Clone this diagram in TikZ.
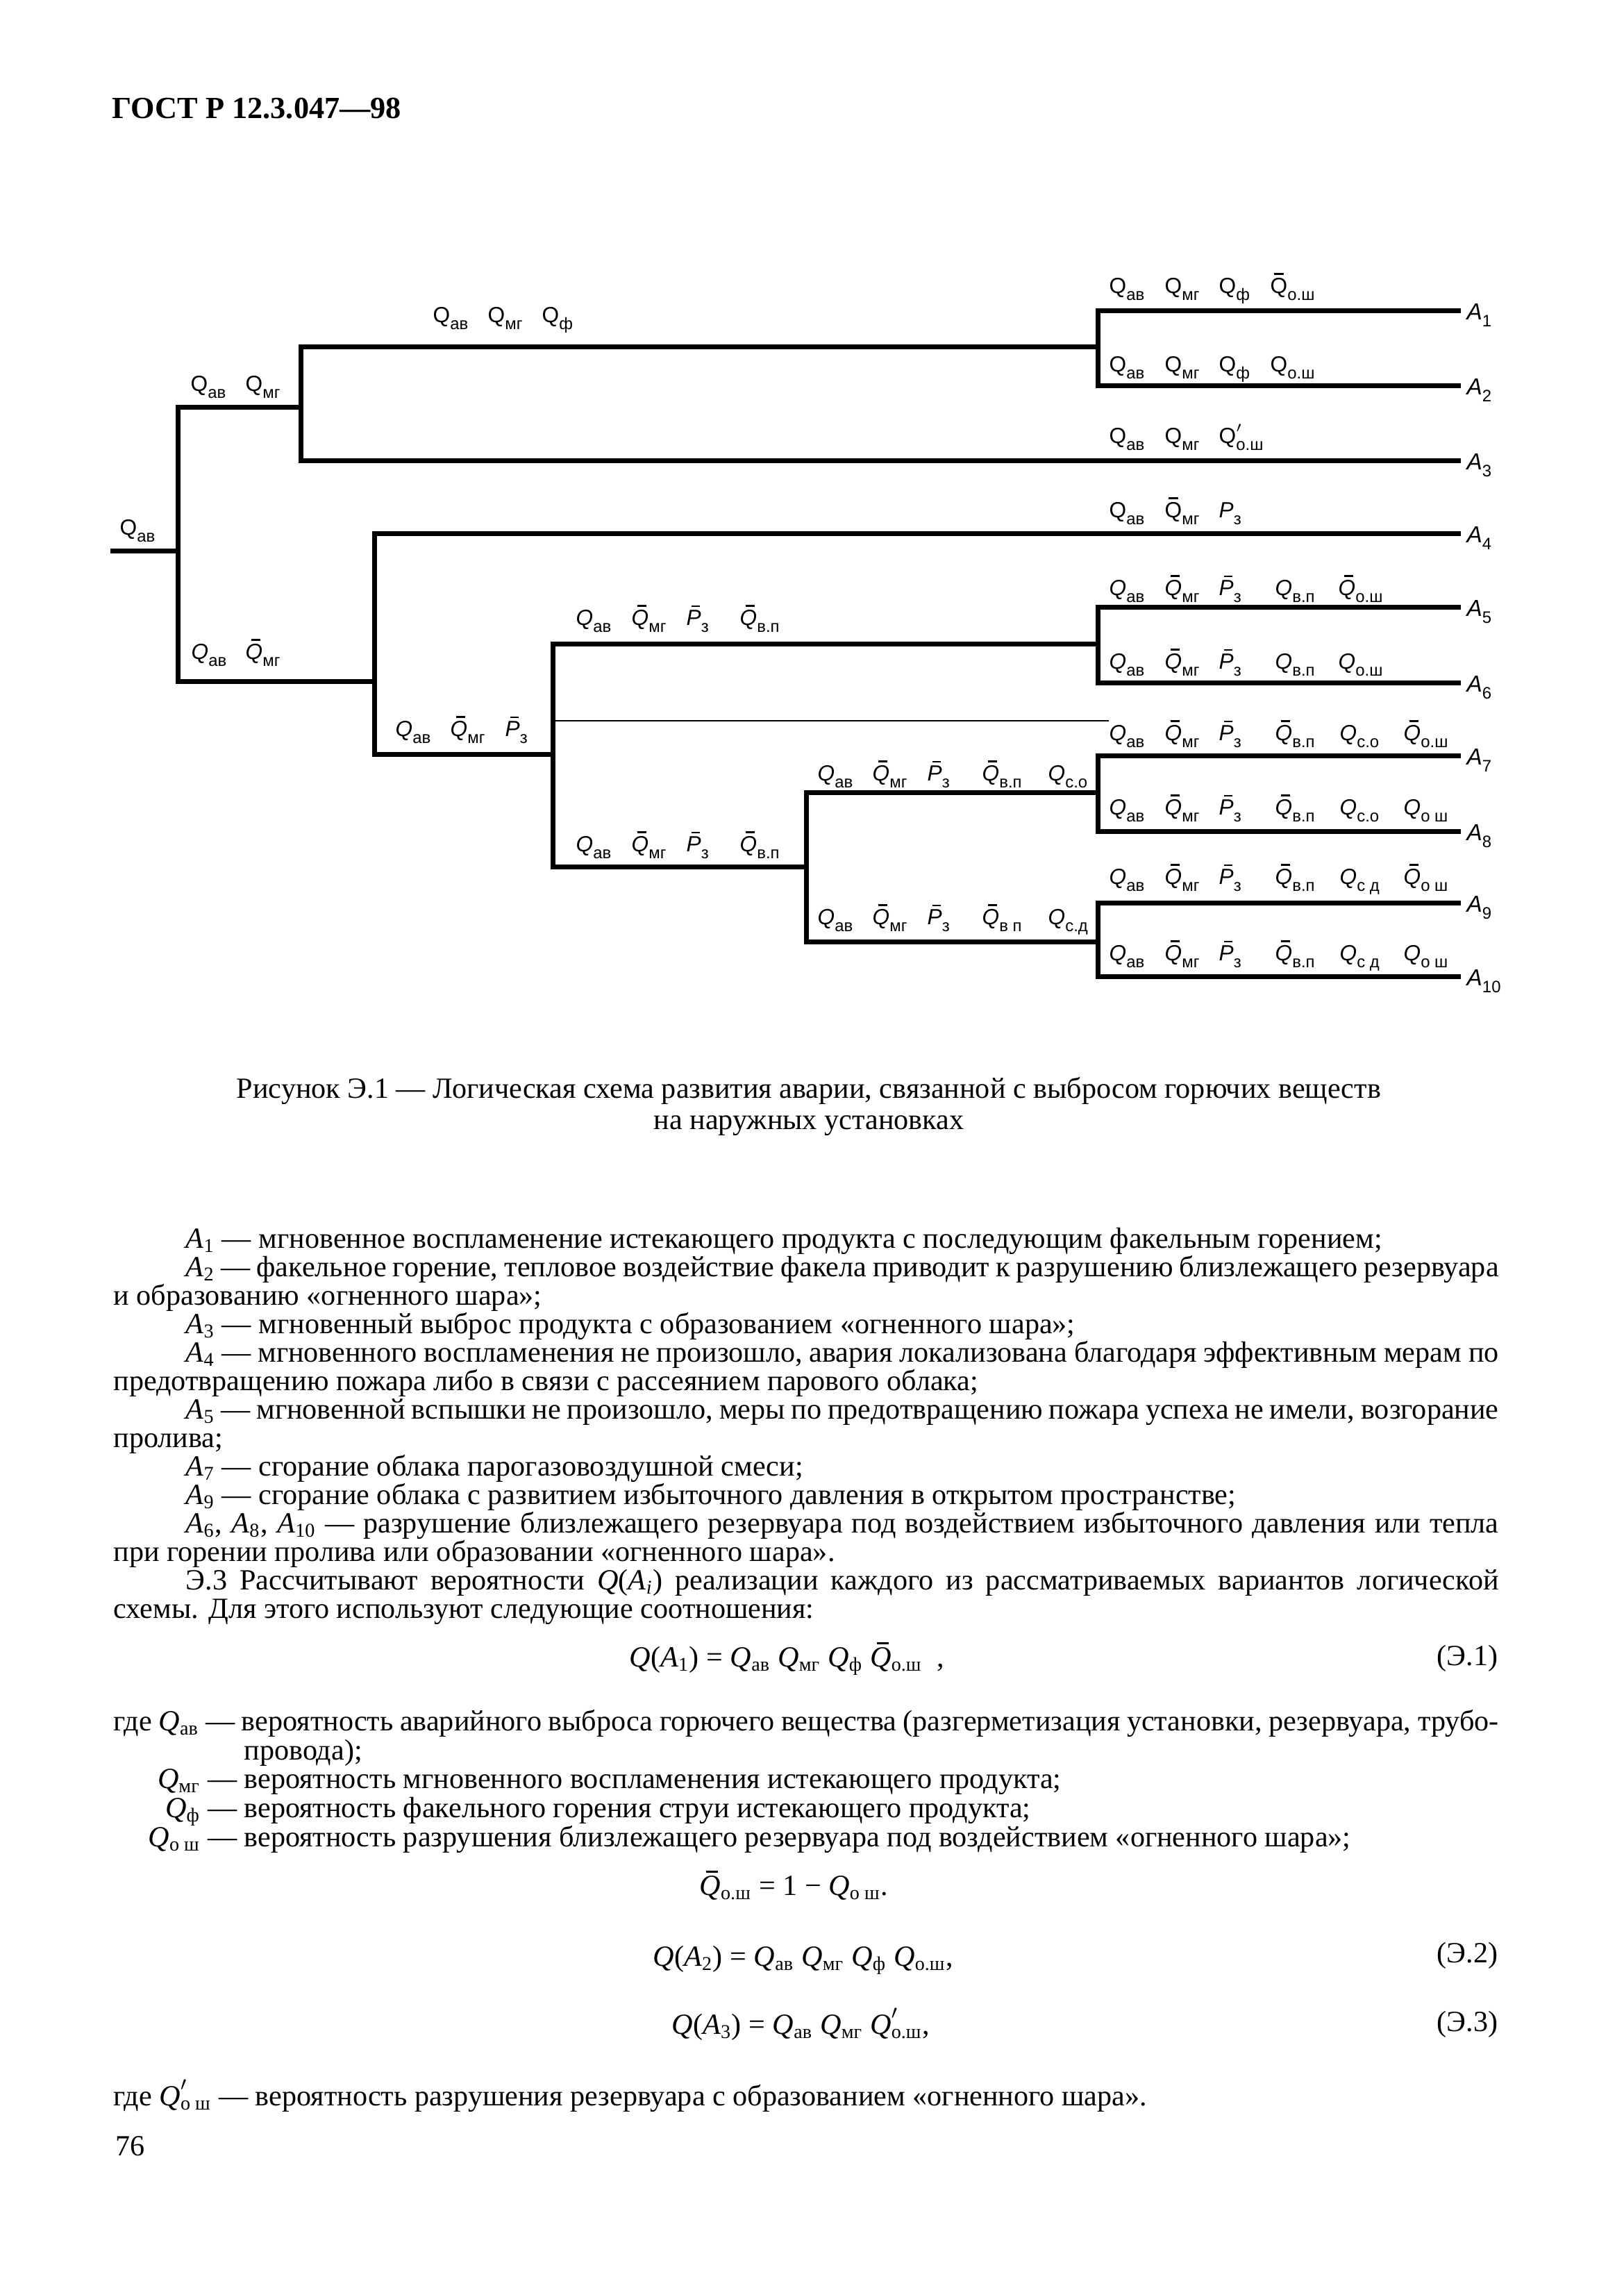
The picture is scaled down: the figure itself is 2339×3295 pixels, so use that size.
\documentclass[tikz,border=0pt]{standalone}
\usepackage{fontspec}
\setmainfont{Liberation Serif}
\newfontfamily\dsans{Liberation Sans}
\newsavebox\obox
\newcommand\ob[2][0pt]{\sbox\obox{#2}\makebox[0pt][l]{\makebox[\wd\obox]{\hspace*{#1}\rule[\dimexpr\ht\obox+1.2pt\relax]{0.55\wd\obox}{0.7pt}}}\usebox\obox}
% diagram terms
\newcommand\lsub[1]{\raisebox{-0.6ex}{\fontsize{6.8}{8}\selectfont #1}}
\newcommand\Qu[1]{Q\lsub{#1}}
\newcommand\Qi[1]{\textit{Q}\lsub{#1}}
\newcommand\QuB[1]{\ob{Q}\lsub{#1}}
\newcommand\QiB[1]{\ob[1.5pt]{\textit{Q}}\lsub{#1}}
\newcommand\Pit[1]{\textit{P}\lsub{#1}}
\newcommand\PiB[1]{\ob[1.5pt]{\textit{P}}\lsub{#1}}
\newcommand\Qpr[1]{Q\makebox[0pt][l]{\raisebox{0.9ex}{$\scriptstyle\prime$}}\lsub{#1}}
\newcommand\Al[1]{\textit{A}\lsub{#1}}
% body terms
\newcommand\Ai[1]{\textit{A}\textsubscript{#1}}
\newcommand\bQ[1]{\textit{Q}\textsubscript{#1}}
\newcommand\bQb[1]{\ob[1.5pt]{\textit{Q}}\textsubscript{#1}}
\newcommand\bQp[1]{\textit{Q}\makebox[0pt][l]{\raisebox{1.1ex}{$\scriptstyle\prime$}}\textsubscript{#1}}
\newcommand\lrow[3]{\foreach \xx/\tm [count=\c] in {#3} \node[lab] (#1c\c) at (\xx,#2) {\tm};}
\tikzset{
  tree/.style={line width=0.7mm, line join=miter, line cap=rect},
  thinline/.style={line width=0.22mm},
  lab/.style={anchor=base west, inner sep=0pt, font=\dsans\fontsize{9}{10}\selectfont},
  alab/.style={anchor=base west, inner sep=0pt, font=\dsans\fontsize{9.5}{10}\selectfont},
  tl/.style={anchor=base west, inner sep=0pt, font=\fontsize{12}{14}\selectfont},
  tlc/.style={anchor=base, inner sep=0pt, font=\fontsize{12}{14}\selectfont},
  tle/.style={anchor=base east, inner sep=0pt, font=\fontsize{12}{14}\selectfont},
}
\begin{document}
\begin{tikzpicture}[x=0.1mm,y=-0.1mm]
\useasboundingbox (0,0) rectangle (2339,3295);
% header
\node[anchor=base west, inner sep=0pt, font=\bfseries\fontsize{12.6}{15}\selectfont] (hdr) at (161,170) {ГОСТ Р 12.3.047—98};
% tree coordinates
\coordinate (s) at (162,793);
\coordinate (n1) at (256,793);
\coordinate (n2) at (433,586);
\coordinate (n3) at (1581,499);
\coordinate (e1) at (2100,447);
\coordinate (e2) at (2100,555);
\coordinate (e3) at (2100,663);
\coordinate (n4) at (539,981);
\coordinate (e4) at (2100,768);
\coordinate (n5) at (796,1086);
\coordinate (n6) at (1581,927);
\coordinate (e5) at (2100,874);
\coordinate (e6) at (2100,983);
\coordinate (th) at (1597,1038);
\coordinate (n7) at (1161,1248);
\coordinate (n8) at (1581,1141);
\coordinate (e7) at (2100,1088);
\coordinate (e8) at (2100,1197);
\coordinate (n9) at (1581,1356);
\coordinate (e9) at (2100,1300);
\coordinate (e10) at (2100,1406);
% tree lines
\draw[tree] (s) -- (n1);
\draw[tree] (n1) |- (n2);
\draw[tree] (n2) |- (n3);
\draw[tree] (n2) |- (e3);
\draw[tree] (n3) |- (e1);
\draw[tree] (n3) |- (e2);
\draw[tree] (n1) |- (n4);
\draw[tree] (n4) |- (e4);
\draw[tree] (n4) |- (n5);
\draw[tree] (n5) |- (n6);
\draw[tree] (n6) |- (e5);
\draw[tree] (n6) |- (e6);
\draw[thinline] (n5 |- th) -- (th);
\draw[tree] (n5) |- (n7);
\draw[tree] (n7) |- (n8);
\draw[tree] (n8) |- (e7);
\draw[tree] (n8) |- (e8);
\draw[tree] (n7) |- (n9);
\draw[tree] (n9) |- (e9);
\draw[tree] (n9) |- (e10);
% labels on branches
\lrow{st}{770}{172/\Qu{ав}}
\lrow{u1}{563}{274/\Qu{ав},353/\Qu{мг}}
\lrow{u2}{464}{623/\Qu{ав},702/\Qu{мг},780/\Qu{ф}}
\lrow{ra}{422}{1597/\Qu{ав},1677/\Qu{мг},1755/\Qu{ф},1829/\QuB{о.ш}}
\lrow{rb}{535}{1597/\Qu{ав},1677/\Qu{мг},1755/\Qu{ф},1829/\Qu{о.ш}}
\lrow{rc}{638}{1597/\Qu{ав},1677/\Qu{мг},1755/\Qpr{о.ш}}
\lrow{rd}{745}{1597/\Qu{ав},1677/\QuB{мг},1755/\Pit{з}}
\lrow{l1}{949}{275/\Qi{ав},353/\QiB{мг}}
\lrow{l2}{1060}{569/\Qi{ав},648/\QiB{мг},727/\PiB{з}}
\lrow{l3}{900}{829/\Qi{ав},909/\QiB{мг},988/\PiB{з},1065/\QiB{в.п}}
\lrow{l4}{1226}{829/\Qi{ав},909/\QiB{мг},988/\PiB{з},1065/\QiB{в.п}}
\lrow{l5}{1124}{1177/\Qi{ав},1256/\QiB{мг},1335/\PiB{з},1414/\QiB{в.п},1509/\Qi{с.о}}
\lrow{l6}{1331}{1177/\Qi{ав},1256/\QiB{мг},1335/\PiB{з},1414/\QiB{в п},1509/\Qi{с.д}}
\lrow{re}{857}{1597/\Qi{ав},1677/\QiB{мг},1755/\PiB{з},1836/\Qi{в.п},1927/\QiB{о.ш}}
\lrow{rf}{963}{1597/\Qi{ав},1677/\QiB{мг},1755/\PiB{з},1836/\Qi{в.п},1927/\Qi{о.ш}}
\lrow{rg}{1066}{1597/\Qi{ав},1677/\QiB{мг},1755/\PiB{з},1836/\QiB{в.п},1929/\Qi{с.о},2021/\QiB{о.ш}}
\lrow{rh}{1173}{1597/\Qi{ав},1677/\QiB{мг},1755/\PiB{з},1836/\QiB{в.п},1929/\Qi{с.о},2021/\Qi{о ш}}
\lrow{ri}{1273}{1597/\Qi{ав},1677/\QiB{мг},1755/\PiB{з},1836/\QiB{в.п},1929/\Qi{с д},2021/\QiB{о ш}}
\lrow{rj}{1383}{1597/\Qi{ав},1677/\QiB{мг},1755/\PiB{з},1836/\QiB{в.п},1929/\Qi{с д},2021/\Qi{о ш}}
% outcome labels
\node[alab] (A1) at (2112,460) {\Al{1}};
\node[alab] (A2) at (2112,568) {\Al{2}};
\node[alab] (A3) at (2112,676) {\Al{3}};
\node[alab] (A4) at (2112,781) {\Al{4}};
\node[alab] (A5) at (2112,887) {\Al{5}};
\node[alab] (A6) at (2112,996) {\Al{6}};
\node[alab] (A7) at (2112,1101) {\Al{7}};
\node[alab] (A8) at (2112,1210) {\Al{8}};
\node[alab] (A9) at (2112,1313) {\Al{9}};
\node[alab] (A10) at (2112,1419) {\Al{10}};
% caption
\node[tlc] (cap1) at (1165,1581) {Рисунок Э.1 — Логическая схема развития аварии, связанной с выбросом горючих веществ};
\node[tlc] (cap2) at (1165,1626) {на наружных установках};
% body text
\node[tl] (b1) at (267,1797) {\Ai{1} — мгновенное воспламенение истекающего продукта с последующим факельным горением;};
\node[tl] (b2) at (267,1838) {\hbox to 189.1mm{\Ai{2} — факельное горение, тепловое воздействие факела приводит к разрушению близлежащего резервуара}};
\node[tl] (b3) at (163,1879) {и образованию «огненного шара»;};
\node[tl] (b4) at (267,1920) {\Ai{3} — мгновенный выброс продукта с образованием «огненного шара»;};
\node[tl] (b5) at (267,1961) {\hbox to 189.1mm{\Ai{4} — мгновенного воспламенения не произошло, авария локализована благодаря эффективным мерам по}};
\node[tl] (b6) at (163,2002) {предотвращению пожара либо в связи с рассеянием парового облака;};
\node[tl] (b7) at (267,2043) {\hbox to 189.1mm{\Ai{5} — мгновенной вспышки не произошло, меры по предотвращению пожара успеха не имели, возгорание}};
\node[tl] (b8) at (163,2084) {пролива;};
\node[tl] (b9) at (267,2125) {\Ai{7} — сгорание облака парогазовоздушной смеси;};
\node[tl] (b10) at (267,2166) {\Ai{9} — сгорание облака с развитием избыточного давления в открытом пространстве;};
\node[tl] (b11) at (267,2207) {\hbox to 189.1mm{\Ai{6}, \Ai{8}, \Ai{10} — разрушение близлежащего резервуара под воздействием избыточного давления или тепла}};
\node[tl] (b12) at (163,2248) {при горении пролива или образовании «огненного шара».};
\node[tl] (b13) at (267,2289) {\hbox to 189.1mm{Э.3 Рассчитывают вероятности \textit{Q}(\textit{A}\textsubscript{\textit{i}}) реализации каждого из рассматриваемых вариантов логической}};
\node[tl] (b14) at (163,2330) {схемы. Для этого используют следующие соотношения:};
% equation 1
\node[tl] (eq1) at (906,2400) {\textit{Q}(\Ai{1}) = \bQ{ав} \bQ{мг} \bQ{ф} \bQb{о.ш}\ \ ,};
\node[tle] (eq1n) at (2158,2398) {(Э.1)};
\node[tl] (g1) at (163,2492) {\hbox to 199.5mm{где \bQ{ав} — вероятность аварийного выброса горючего вещества (разгерметизация установки, резервуара, трубо-}};
\node[tl] (g1b) at (351,2534) {провода);};
\node[tle] (g2s) at (342,2575) {\bQ{мг} —};
\node[tl] (g2) at (351,2575) {вероятность мгновенного воспламенения истекающего продукта;};
\node[tle] (g3s) at (342,2617) {\bQ{ф} —};
\node[tl] (g3) at (351,2617) {вероятность факельного горения струи истекающего продукта;};
\node[tle] (g4s) at (342,2659) {\bQ{о ш} —};
\node[tl] (g4) at (351,2659) {вероятность разрушения близлежащего резервуара под воздействием «огненного шара»;};
\node[tl] (eqb) at (1007,2729) {\bQb{о.ш} = 1 − \bQ{о ш}.};
\node[tl] (eq2) at (940,2831) {\textit{Q}(\Ai{2}) = \bQ{ав} \bQ{мг} \bQ{ф} \bQ{о.ш},};
\node[tle] (eq2n) at (2158,2826) {(Э.2)};
\node[tl] (eq3) at (967,2929) {\textit{Q}(\Ai{3}) = \bQ{ав} \bQ{мг} \bQp{о.ш},};
\node[tle] (eq3n) at (2158,2925) {(Э.3)};
\node[tl] (g5) at (163,3032) {где \bQp{о ш} — вероятность разрушения резервуара с образованием «огненного шара».};
\node[tl] (pg) at (166,3104) {76};
\end{tikzpicture}
\end{document}
